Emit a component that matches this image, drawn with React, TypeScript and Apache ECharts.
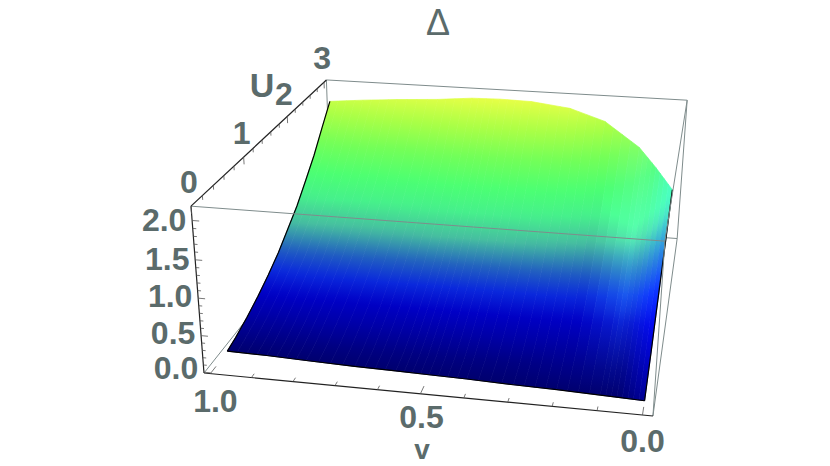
import React, { useEffect, useRef } from "react";
import * as echarts from "echarts";

const vGrid = [1, 0.9, 0.8, 0.68, 0.58, 0.5, 0.41, 0.3, 0.2, 0.1, 0.05, 0];
const uGrid = [0.25, 0.5, 0.75, 1, 1.25, 1.5, 1.75, 2, 2.25, 2.5, 2.75, 3];
const uFrontAtV = [0.33, 0.32, 0.3, 0.28, 0.27, 0.26, 0.25, 0.23, 0.22, 0.2, 0.19, 0.18];
const zAtV100 = [0, 0.04, 0.12, 0.22, 0.34, 0.48, 0.66, 0.84, 1.07, 1.31, 1.6, 1.88];
const zAtV090 = [0, 0.04, 0.12, 0.23, 0.36, 0.49, 0.68, 0.87, 1.1, 1.36, 1.65, 1.93];
const zAtV080 = [0, 0.04, 0.13, 0.23, 0.36, 0.5, 0.69, 0.89, 1.11, 1.38, 1.68, 1.97];
const zAtV068 = [0, 0.04, 0.13, 0.23, 0.37, 0.51, 0.7, 0.9, 1.13, 1.4, 1.71, 2.01];
const zAtV058 = [0, 0.04, 0.13, 0.24, 0.37, 0.52, 0.72, 0.92, 1.16, 1.43, 1.76, 2.06];
const zAtV050 = [0, 0.04, 0.13, 0.24, 0.37, 0.52, 0.72, 0.93, 1.17, 1.45, 1.76, 2.07];
const zAtV041 = [0, 0.04, 0.13, 0.24, 0.37, 0.52, 0.72, 0.92, 1.16, 1.45, 1.76, 2.06];
const zAtV030 = [0, 0.04, 0.13, 0.23, 0.37, 0.51, 0.7, 0.9, 1.12, 1.39, 1.7, 1.99];
const zAtV020 = [0, 0.06, 0.13, 0.23, 0.36, 0.49, 0.66, 0.84, 1.04, 1.28, 1.56, 1.82];
const zAtV010 = [0, 0.06, 0.13, 0.22, 0.32, 0.45, 0.59, 0.77, 0.91, 1.09, 1.26, 1.45];
const zAtV005 = [0, 0.06, 0.13, 0.22, 0.32, 0.43, 0.55, 0.67, 0.78, 0.9, 1.02, 1.15];
const zAtV000 = [0, 0.08, 0.14, 0.22, 0.3, 0.37, 0.45, 0.52, 0.59, 0.67, 0.74, 0.82];
const zTable = [zAtV100, zAtV090, zAtV080, zAtV068, zAtV058, zAtV050, zAtV041, zAtV030, zAtV020, zAtV010, zAtV005, zAtV000];

const vTicks = [1, 0.9, 0.8, 0.7, 0.6, 0.5, 0.4, 0.3, 0.2, 0.1, 0];
const uTicks = [0, 0.2, 0.4, 0.6, 0.8, 1, 1.2, 1.4, 1.6, 1.8, 2, 2.2, 2.4, 2.6, 2.8, 3];
const zTicks = [0, 0.1, 0.2, 0.3, 0.4, 0.5, 0.6, 0.7, 0.8, 0.9, 1, 1.1, 1.2, 1.3, 1.4, 1.5, 1.6, 1.7, 1.8, 1.9, 2];
const vLabels = ["1.0", "0.5", "0.0"];
const uLabels = ["0", "1", "3"];
const zLabels = ["0.0", "0.5", "1.0", "1.5", "2.0"];

const colorZ = [0, 0.04, 0.13, 0.24, 0.37, 0.52, 0.72, 0.93, 1.15, 1.45, 1.75, 2.07];
const colorR = [0, 0, 0, 0, 10, 35, 70, 70, 75, 115, 170, 230];
const colorG = [0, 0, 0, 0, 40, 100, 190, 240, 255, 255, 255, 255];
const colorB = [110, 130, 165, 198, 220, 190, 160, 140, 115, 88, 70, 70];

const TEXT = "#5b6b6b";
const EDGE = "#7f8c8c";
const FONT = "'Liberation Sans', Arial, sans-serif";

function box(x: number, t: number, w: number): number[] {
  const d = 1 - 0.05596 * x + 0.301 * t - 0.0513 * w;
  const X = 204 + 412.4 * x + 226.7 * t - 22.8 * w;
  const Y = 373 + 19.7 * x - 95.7 * t - 177.4 * w;
  return [X / d, Y / d];
}
const fx = (v: number) => 0.015 + 0.963 * (1 - v);
const ft = (u: number) => u / 3.07;
const fw = (z: number) => 0.005 + z / 2.19;
const proj = (v: number, u: number, z: number) => box(fx(v), ft(u), fw(z));

const clamp01 = (n: number) => Math.min(1, Math.max(0, n));

function colorAt(z: number, v: number): string {
  let i = 0;
  while (i < colorZ.length - 2 && z > colorZ[i + 1]) i++;
  const k = clamp01((z - colorZ[i]) / (colorZ[i + 1] - colorZ[i]));
  const c = (a: number[]) => a[i] + (a[i + 1] - a[i]) * k;
  const fold = clamp01(1 - Math.abs(v - 0.08) / 0.1) * clamp01(z / 0.3);
  const edge = clamp01(1 - v / 0.06);
  const upper = clamp01((z - 0.35) / 0.4);
  const r = c(colorR) + 15 * fold;
  const g = c(colorG) + 45 * fold + 35 * edge * upper;
  const b = c(colorB) + 20 * fold + 40 * edge;
  return `rgb(${Math.round(Math.min(255, r))},${Math.round(Math.min(255, g))},${Math.round(Math.min(255, b))})`;
}

const SUB_V = 4;
const SUB_ROW = 4;

// A point of the surface in column iv at fraction a across it and row iu.
function surfacePoint(iv: number, a: number, iu: number) {
  const v = vGrid[iv] + (vGrid[iv + 1] - vGrid[iv]) * a;
  const u = iu === 0 ? uFrontAtV[iv] + (uFrontAtV[iv + 1] - uFrontAtV[iv]) * a : uGrid[iu];
  const z = zTable[iv][iu] + (zTable[iv + 1][iu] - zTable[iv][iu]) * a;
  return { v, u, z };
}

function columnChildren(iv: number, api: any) {
  const out: any[] = [];
  const coordOf = (p: { v: number; u: number; z: number }) => api.coord(proj(p.v, p.u, p.z));
  for (let i = 0; i < SUB_V; i++) {
    const a0 = i / SUB_V, a1 = (i + 1) / SUB_V, am = (a0 + a1) / 2;
    const left = uGrid.map((_, j) => coordOf(surfacePoint(iv, a0, j)));
    const right = uGrid.map((_, j) => coordOf(surfacePoint(iv, a1, j)));
    const fl = left[0], fr = right[0];
    const ex = fr[0] - fl[0], ey = fr[1] - fl[1];
    const el = Math.hypot(ex, ey) || 1;
    let nx = -ey / el, ny = ex / el;
    if (ny > 0) { nx = -nx; ny = -ny; }
    const mx = (fl[0] + fr[0]) / 2, my = (fl[1] + fr[1]) / 2;
    const samples: { d: number; z: number; v: number }[] = [];
    for (let j = 0; j < uGrid.length - 1; j++) {
      const p = surfacePoint(iv, am, j), q = surfacePoint(iv, am, j + 1);
      for (let s = 0; s < SUB_ROW; s++) {
        const b = s / SUB_ROW;
        const m = { v: p.v, u: p.u + (q.u - p.u) * b, z: p.z + (q.z - p.z) * b };
        const c = coordOf(m);
        samples.push({ d: (c[0] - mx) * nx + (c[1] - my) * ny, z: m.z, v: m.v });
      }
    }
    const end = surfacePoint(iv, am, uGrid.length - 1);
    const ce = coordOf(end);
    samples.push({ d: (ce[0] - mx) * nx + (ce[1] - my) * ny, z: end.z, v: end.v });
    const len = samples[samples.length - 1].d;
    const colorStops = samples.map((s) => ({ offset: clamp01(s.d / len), color: colorAt(s.z, s.v) }));
    const fill = { type: "linear", global: true, x: mx, y: my, x2: mx + nx * len, y2: my + ny * len, colorStops };
    out.push({
      type: "polygon",
      shape: { points: [...left, ...right.slice().reverse()] },
      style: { fill, stroke: fill, lineWidth: 0.7 },
    });
  }
  return out;
}

function line(api: any, a: number[], b: number[], stroke: string, lineWidth: number) {
  const p = api.coord(a), q = api.coord(b);
  return { type: "line", shape: { x1: p[0], y1: p[1], x2: q[0], y2: q[1] }, style: { stroke, lineWidth } };
}

function label(api: any, at: number[], text: string, fontSize = 32, fontWeight = "bold") {
  const p = api.coord(at);
  return {
    type: "text",
    x: p[0],
    y: p[1],
    style: { text, fontSize, fontWeight, fontFamily: FONT, fill: TEXT, align: "center", verticalAlign: "middle" },
  };
}

function backBox(_: any, api: any) {
  return {
    type: "group",
    children: [
      line(api, box(0, 1, 1), box(1, 1, 1), EDGE, 1),
      line(api, box(0, 1, 1), box(0, 1, 0), EDGE, 1),
      line(api, box(0, 1, 0), box(1, 1, 0), EDGE, 1),
      line(api, box(0, 0, 0), box(0, 1, 0), EDGE, 1),
      line(api, box(1, 1, 1), box(1, 1, 0), EDGE, 1),
      line(api, box(1, 0, 0), box(1, 1, 0), EDGE, 1),
    ],
  };
}

function frontBox(_: any, api: any) {
  const kids: any[] = [];
  const last = vGrid.length - 1;
  const surfaceEdge = (pts: number[][]) => ({
    type: "polyline",
    shape: { points: pts.map((p) => api.coord(p)) },
    style: { stroke: "#000", lineWidth: 1.2, fill: "none" },
  });
  kids.push(surfaceEdge(uGrid.map((u, j) => proj(vGrid[0], j === 0 ? uFrontAtV[0] : u, zTable[0][j]))));
  kids.push(surfaceEdge(uGrid.map((u, j) => proj(vGrid[last], j === 0 ? uFrontAtV[last] : u, zTable[last][j]))));
  kids.push(surfaceEdge(vGrid.map((v, i) => proj(v, uFrontAtV[i], zTable[i][0]))));
  kids.push(line(api, box(0, 0, 1), box(1, 0, 1), EDGE, 1));
  kids.push(line(api, box(1, 0, 1), box(1, 0, 0), EDGE, 1));
  kids.push(line(api, box(1, 1, 1), box(1, 0, 1), EDGE, 1));
  kids.push(line(api, box(0, 0, 0), box(1, 0, 0), "#222", 1.2));
  kids.push(line(api, box(0, 0, 0), box(0, 0, 1), "#222", 1.2));
  kids.push(line(api, box(0, 0, 1), box(0, 1, 1), "#222", 1.2));
  vTicks.forEach((v) => {
    const major = Math.abs(v * 2 - Math.round(v * 2)) < 1e-6;
    kids.push(line(api, box(fx(v), 0, 0), box(fx(v), major ? 0.035 : 0.018, 0), "#555", 0.8));
  });
  uTicks.forEach((u) => {
    const major = Math.abs(u - Math.round(u)) < 1e-6;
    kids.push(line(api, box(0, ft(u), 1), box(0, ft(u), major ? 0.955 : 0.975), "#555", 0.8));
  });
  zTicks.forEach((z) => {
    const major = Math.abs(z * 2 - Math.round(z * 2)) < 1e-6;
    kids.push(line(api, box(0, 0, fw(z)), box(major ? 0.016 : 0.008, 0, fw(z)), "#555", 0.8));
  });
  const vShift: Record<string, number[]> = { "1.0": [5, 27], "0.5": [1, 23], "0.0": [0, 26] };
  vLabels.forEach((s) => {
    const p = box(fx(Number(s)), 0, 0);
    kids.push(label(api, [p[0] + vShift[s][0], p[1] + vShift[s][1]], s));
  });
  uLabels.forEach((s) => {
    const p = box(0, ft(Number(s)), 1);
    kids.push(label(api, [p[0] - 2, p[1] - 24], s));
  });
  zLabels.forEach((s) => {
    const z = Number(s);
    const p = box(0, 0, fw(z));
    kids.push(label(api, [p[0] - 28, p[1] - (2 - z) * 2], s));
  });
  kids.push(label(api, [438, 22], "\u0394", 36, "normal"));
  kids.push(label(api, [262, 85], "U", 34));
  kids.push(label(api, [284, 94], "2", 32));
  kids.push(label(api, [422, 449], "v", 28));
  return { type: "group", children: kids };
}

const columns: number[][] = vGrid.slice(0, -1).map((_, i) => [i, 0]);

export default function App() {
  const ref = useRef<HTMLDivElement>(null);
  useEffect(() => {
    document.body.style.margin = "0";
    const chart = echarts.init(ref.current!, undefined, { renderer: "svg" });
    chart.setOption({
      animation: false,
      backgroundColor: "#fff",
      grid: { left: 0, right: 0, top: 0, bottom: 0 },
      xAxis: { type: "value", min: 0, max: 830, show: false },
      yAxis: { type: "value", min: 0, max: 466, inverse: true, show: false },
      series: [
        { type: "custom", silent: true, clip: false, data: [[0, 0]], renderItem: backBox },
        {
          type: "custom",
          silent: true,
          clip: false,
          data: columns,
          renderItem: (params: any, api: any) => ({
            type: "group",
            children: columnChildren(columns[params.dataIndex][0], api),
          }),
        },
        { type: "custom", silent: true, clip: false, data: [[0, 0]], renderItem: frontBox },
      ],
    });
    return () => chart.dispose();
  }, []);
  return <div ref={ref} style={{ width: 830, height: 466 }} />;
}
